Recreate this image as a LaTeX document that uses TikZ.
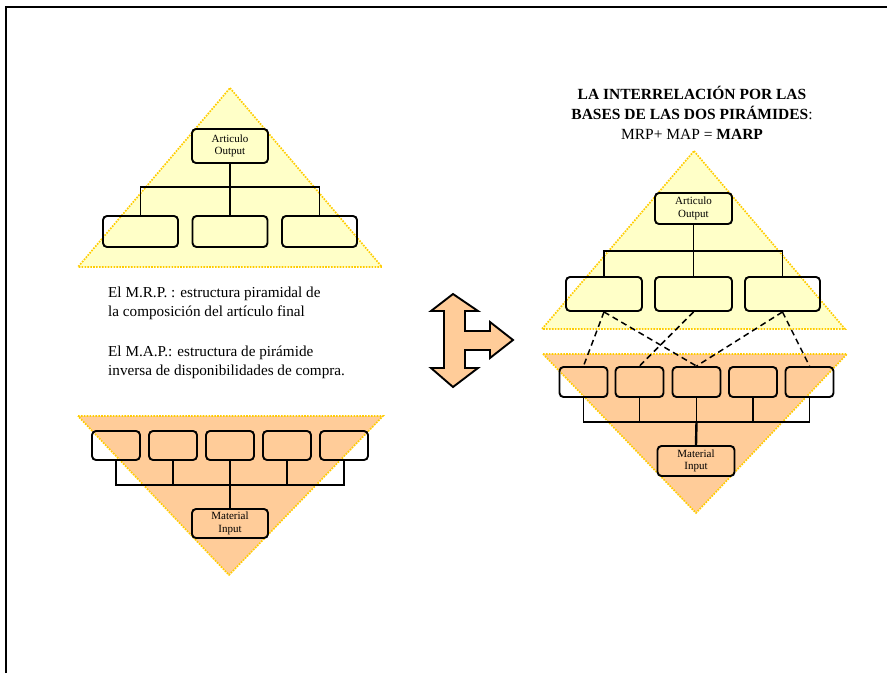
\documentclass[tikz,border=0pt]{standalone}
\usepackage{fontspec}
\setmainfont{Liberation Serif}
\definecolor{pyel}{RGB}{255,255,200}
\definecolor{porg}{RGB}{255,204,153}
\definecolor{pgold}{RGB}{255,204,0}
\begin{document}
\begin{tikzpicture}[x=1pt,y=-1pt,
  tri/.style={fill=#1,draw=pgold,line width=1.7pt,dash pattern=on 1.6pt off 1.3pt},
  bx/.style={draw,line width=1.9pt,rounded corners=4pt,inner sep=0pt,align=center,
    font=\fontsize{11}{12.5}\selectfont},
  conn/.style={line width=1.7pt},
  dashlink/.style={line width=1.5pt,dash pattern=on 6pt off 4pt},
  txt/.style={font=\fontsize{15.2}{18.5}\selectfont,align=left,inner sep=0pt}]
\useasboundingbox (0,0) rectangle (887,673);
% frame
\draw[line width=2pt] (6,673) -- (6,7) -- (887,7);

% ---------- left top pyramid ----------
\draw[tri=pyel] (230,88) -- (382,267) -- (78,267) -- cycle;
\node[bx,minimum width=76pt,minimum height=34pt] (lart) at (230,146) {Articulo\\Output};
\node[bx,minimum width=75pt,minimum height=31pt] (lt1) at (140.5,231.5) {};
\node[bx,minimum width=75pt,minimum height=31pt] (lt2) at (230,231.5) {};
\node[bx,minimum width=75pt,minimum height=31pt] (lt3) at (319.5,231.5) {};
\draw[conn] (lt1.north) -- ++(0,-28) -| (lt3.north);
\draw[conn] (lart.south) -- (lt2.north);

% ---------- left bottom pyramid ----------
\draw[tri=porg] (78,416) -- (383,416) -- (229,575) -- cycle;
\foreach \i/\x in {1/116,2/173,3/230,4/287,5/344}{
  \node[bx,minimum width=48pt,minimum height=29pt] (lb\i) at (\x,445.5) {};
}
\node[bx,minimum width=76pt,minimum height=29pt] (lmat) at (230,523.5) {Material\\Input};
\coordinate (lbar) at (230,485);
\draw[conn] (lb1.south) |- (lbar) -| (lb5.south);
\draw[conn] (lb2.south) -- (lb2.south |- lbar);
\draw[conn] (lb4.south) -- (lb4.south |- lbar);
\draw[conn] (lb3.south) -- (lmat.north);

% ---------- texts ----------
\node[txt,anchor=north west] (mrp) at (108,287) {El M.R.P. : estructura piramidal de\\la composición del artículo final};
\node[txt,anchor=north west] (map) at (108,346) {El M.A.P.: estructura de pirámide\\inversa de disponibilidades de compra.};

% ---------- arrow ----------
\draw[fill=porg,line width=1.9pt,line join=miter]
  (453,294) -- (478,311) -- (465,311) -- (465,331) -- (490,331) -- (490,322) -- (513,340)
  -- (490,358) -- (490,350) -- (465,350) -- (465,368) -- (478,368) -- (453,387)
  -- (431,368) -- (444,368) -- (444,311) -- (431,311) -- cycle;

% ---------- title ----------
\node[font=\fontsize{15.5}{20}\selectfont,align=center,inner sep=0pt] (title) at (692,113)
  {\textbf{LA INTERRELACIÓN POR LAS}\\\textbf{BASES DE LAS DOS PIRÁMIDES}:\\MRP+ MAP = \textbf{MARP}};

% ---------- right top pyramid ----------
\draw[tri=pyel] (694,151) -- (845,329) -- (542,329) -- cycle;
\node[bx,minimum width=77pt,minimum height=31pt] (rart) at (693.5,208.5) {Articulo\\Output};
\node[bx,minimum width=76pt,minimum height=34pt] (rt1) at (604,294) {};
\node[bx,minimum width=77pt,minimum height=34pt] (rt2) at (693.5,294) {};
\node[bx,minimum width=75pt,minimum height=34pt] (rt3) at (782.5,294) {};
\draw[conn] (rt1.north) -- ++(0,-25) -| (rt3.north);
\draw[conn] (rart.south) -- (rt2.north);

% ---------- right bottom pyramid ----------
\draw[tri=porg] (543,354) -- (847,354) -- (696,513) -- cycle;
\foreach \i/\x in {1/583.5,2/639.5,3/696.5,4/753,5/809.5}{
  \node[bx,minimum width=48pt,minimum height=30pt] (rb\i) at (\x,382) {};
}
\node[bx,minimum width=77pt,minimum height=30pt] (rmat) at (696,461) {Material\\Input};
\coordinate (rbar) at (696,422);
\draw[conn] (rb1.south) |- (rbar) -| (rb5.south);
\draw[conn] (rb2.south) -- (rb2.south |- rbar);
\draw[conn] (rb4.south) -- (rb4.south |- rbar);
\draw[conn] (rb3.south) -- (rb3.south |- rbar);
\draw[line width=2.4pt] (rb3.south |- rbar) -- (rmat.north);

% ---------- dashed interrelation ----------
\draw[dashlink] (rt1.south) -- (rb1.north);
\draw[dashlink] (rt1.south) -- (rb3.north);
\draw[dashlink] (rt2.south) -- (rb2.north);
\draw[dashlink] (rt3.south) -- (rb3.north);
\draw[dashlink] (rt3.south) -- (rb5.north);
\end{tikzpicture}
\end{document}
